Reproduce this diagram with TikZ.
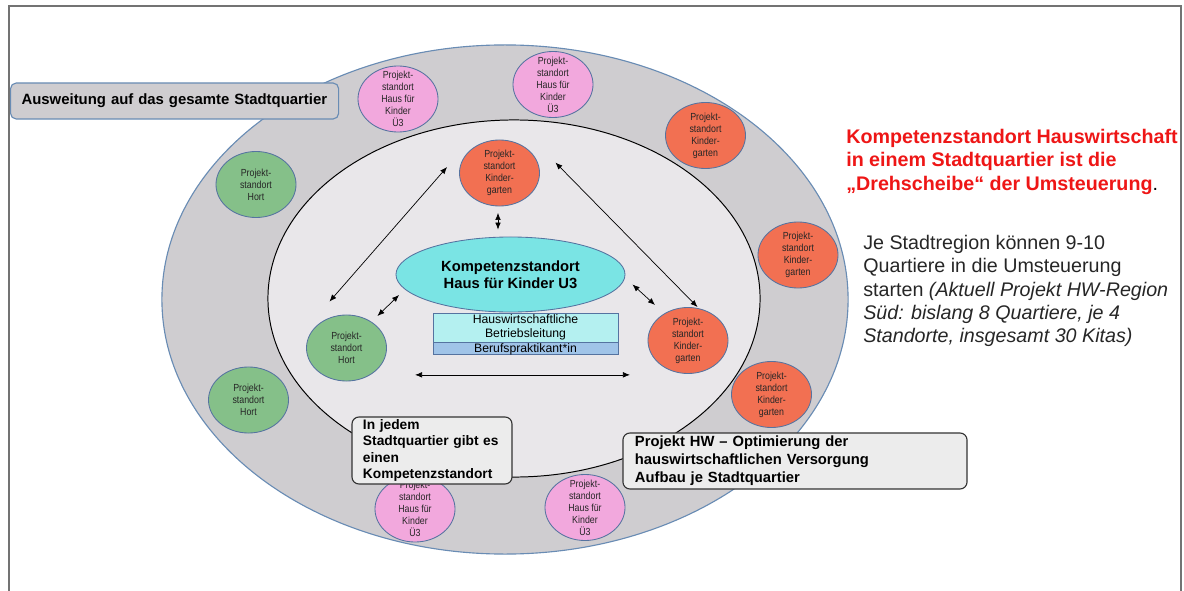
\documentclass[tikz,border=0pt]{standalone}
\usepackage{fontspec}
\setmainfont{Liberation Sans}
\newfontfamily\narrowsf[FakeStretch=0.86]{Liberation Sans}
\usepackage{xcolor}
\usetikzlibrary{shapes.geometric, arrows.meta, positioning, calc}

\definecolor{ringgray}{RGB}{207,205,208}
\definecolor{coregray}{RGB}{233,231,234}
\definecolor{ringblue}{RGB}{105,140,180}
\definecolor{spotblue}{RGB}{85,115,160}
\definecolor{pinkU3}{RGB}{242,168,221}
\definecolor{redKG}{RGB}{242,112,82}
\definecolor{greenHort}{RGB}{133,192,137}
\definecolor{cyanKS}{RGB}{122,228,228}
\definecolor{cyanHB}{RGB}{180,240,240}
\definecolor{blueBP}{RGB}{160,196,232}
\definecolor{notegray}{RGB}{236,236,236}
\definecolor{headred}{RGB}{238,22,22}

\begin{document}
\begin{tikzpicture}[x=0.025cm, y=-0.025cm]
  \tikzset{
    frame/.style={draw=black!55, line width=1pt},
    ring/.style={draw=ringblue, line width=0.8pt, fill=ringgray},
    core/.style={draw=black, line width=0.7pt, fill=coregray},
    spot/.style={ellipse, draw=spotblue, line width=0.6pt, minimum width=2cm, minimum height=1.65cm, inner sep=0pt},
    spottext/.style={font=\narrowsf\fontsize{7.3}{8.5}\selectfont, align=center, text=black!85},
    hub/.style={ellipse, draw=spotblue, line width=0.6pt, fill=cyanKS, minimum width=5.725cm, minimum height=1.875cm,
      font=\bfseries\fontsize{10.5}{12.1}\selectfont, align=center},
    staffbox/.style={rectangle, draw=spotblue, line width=0.6pt, minimum width=4.625cm, inner sep=0pt,
      font=\fontsize{8.7}{10}\selectfont, align=center},
    note/.style={rectangle, rounded corners=5pt, draw=black!80, line width=0.8pt, fill=notegray,
      align=left, inner ysep=1pt},
    biarrow/.style={{Latex[length=5pt,width=4pt]}-{Latex[length=5pt,width=4pt]}, line width=0.5pt}
  }

  \useasboundingbox (0,0) rectangle (1184,591);
  \draw[frame] (9,591) -- (9,6) -- (1181,6) -- (1181,591);

  % Stadtquartier ring and inner area
  \draw[ring] (505,299.5) ellipse [x radius=8.575cm, y radius=6.3625cm];
  \draw[core] (514,298.5) ellipse [x radius=6.15cm, y radius=4.4625cm];

  % Project sites on the outer ring
  \node[spot, fill=pinkU3, label={[spottext]center:Projekt-\\standort\\Haus für\\Kinder\\Ü3}] (u3a) at (398,99) {};
  \node[spot, fill=pinkU3, label={[spottext]center:Projekt-\\standort\\Haus für\\Kinder\\Ü3}] (u3b) at (553,84.5) {};
  \node[spot, fill=redKG, label={[spottext]center:Projekt-\\standort\\Kinder-\\garten}] (kga) at (705.5,135.5) {};
  \node[spot, fill=redKG, label={[spottext]center:Projekt-\\standort\\Kinder-\\garten}] (kgb) at (798,255) {};
  \node[spot, fill=redKG, label={[spottext]center:Projekt-\\standort\\Kinder-\\garten}] (kgc) at (771.5,394.5) {};
  \node[spot, fill=greenHort, label={[spottext]center:Projekt-\\standort\\Hort}] (horta) at (256,184.5) {};
  \node[spot, fill=greenHort, label={[spottext]center:Projekt-\\standort\\Hort}] (hortb) at (248.5,400) {};
  \node[spot, fill=pinkU3, label={[spottext]center:Projekt-\\standort\\Haus für\\Kinder\\Ü3}] (u3c) at (415,509) {};
  \node[spot, fill=pinkU3, label={[spottext]center:Projekt-\\standort\\Haus für\\Kinder\\Ü3}] (u3d) at (585,507.5) {};

  % Project sites inside the quarter
  \node[spot, fill=redKG, label={[spottext]center:Projekt-\\standort\\Kinder-\\garten}] (kgtop) at (499.5,173) {};
  \node[spot, fill=greenHort, label={[spottext]center:Projekt-\\standort\\Hort}] (hortin) at (346.5,348) {};
  \node[spot, fill=redKG, label={[spottext]center:Projekt-\\standort\\Kinder-\\garten}] (kgin) at (688,340.5) {};

  % Competence centre with staff
  \node[hub] (kompetenz) at (510.5,274.5) {Kompetenzstandort\\Haus für Kinder U3};
  \node[staffbox, fill=cyanHB, minimum height=0.725cm] (hbl) at (525.5,327.5) {Hauswirtschaftliche\\Betriebsleitung};
  \node[staffbox, fill=blueBP, minimum height=0.3cm, below=0pt of hbl] (praktikant) {Berufspraktikant*in};

  % Exchange arrows
  \coordinate (kgtopL) at ($(kgtop.west)+(-12,-6)$);
  \coordinate (hortinN) at ($(hortin.north)+(-17,-13)$);
  \coordinate (kgtopR) at ($(kgtop.east)+(15.5,-10.5)$);
  \coordinate (kginN) at ($(kgin.north)+(9.5,0)$);
  \coordinate (kgtopS) at ($(kgtop.south)+(-1.5,6.5)$);
  \coordinate (kompN) at ($(kompetenz.north)+(-12.5,-7)$);
  \coordinate (hortinNE) at ($(hortin)+(31,-32)$);
  \coordinate (kompSW) at ($(kompetenz)+(-111.5,20.5)$);
  \coordinate (kompE) at ($(kompetenz)+(122,10)$);
  \coordinate (kginNW) at ($(kgin)+(-33,-35.5)$);
  \coordinate (flowL) at ($(praktikant)+(-110.5,26)$);
  \coordinate (flowR) at ($(praktikant)+(104.5,26)$);

  \draw[biarrow] (kgtopL) -- (hortinN);
  \draw[biarrow] (kgtopR) -- (kginN);
  \draw[biarrow] (kgtopS) -- (kompN);
  \draw[biarrow] (hortinNE) -- (kompSW);
  \draw[biarrow] (kompE) -- (kginNW);
  \draw[biarrow] (flowL) -- (flowR);

  % Notes
  \node[note, rounded corners=4pt, draw=ringblue, fill=ringgray, anchor=west, minimum width=8.2cm, minimum height=0.9cm,
    text width=7.65cm, inner xsep=0.275cm, font=\bfseries\fontsize{10.6}{12.5}\selectfont] (ausweitung) at (10,101)
    {Ausweitung auf das gesamte Stadtquartier};
  \node[note, minimum width=4cm, minimum height=1.675cm, text width=3.45cm, inner xsep=0.275cm,
    font=\bfseries\fontsize{9.8}{11.6}\selectfont] (jedem) at (432,450.5)
    {In jedem\\Stadtquartier gibt es\\einen\\Kompetenzstandort};
  \node[note, minimum width=8.6cm, minimum height=1.4cm, text width=8cm, inner xsep=0.3cm,
    font=\bfseries\fontsize{10.5}{12.8}\selectfont] (projekthw) at (795,461)
    {Projekt HW – Optimierung der\\hauswirtschaftlichen Versorgung\\Aufbau je Stadtquartier};

  % Side texts
  \node[anchor=north west, inner sep=0pt, align=left, text=headred, font=\bfseries\fontsize{14}{16.6}\selectfont] (drehscheibe) at (846,129)
    {Kompetenzstandort Hauswirtschaft\\in einem Stadtquartier ist die\\„Drehscheibe“ der Umsteuerung\textcolor{black}{\mdseries .}};
  \node[anchor=north west, inner sep=0pt, align=left, text=black!85, font=\fontsize{14}{16.6}\selectfont] (stadtregion) at (863,235)
    {Je Stadtregion können 9-10\\Quartiere in die Umsteuerung\\starten \textit{(Aktuell Projekt HW-Region}\\\textit{Süd: bislang 8 Quartiere, je 4}\\\textit{Standorte, insgesamt 30 Kitas)}};
\end{tikzpicture}
\end{document}
